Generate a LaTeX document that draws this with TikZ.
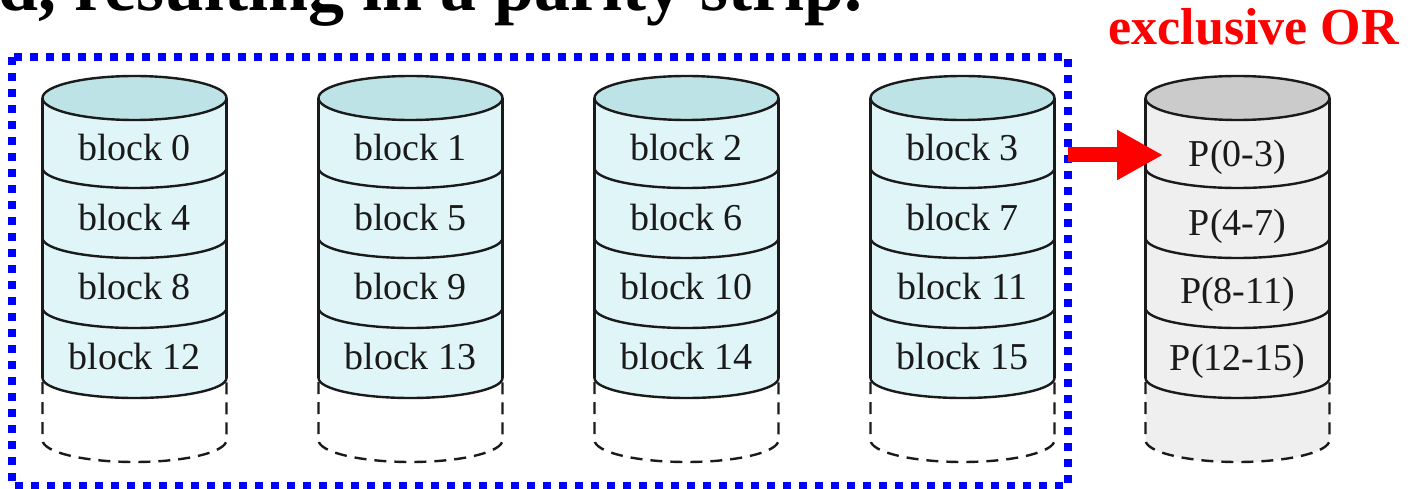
\documentclass[tikz,border=0pt]{standalone}
\usepackage{fontspec}
\setmainfont{Liberation Serif}
\usetikzlibrary{arrows.meta}

\definecolor{diskbody}{HTML}{DFF5F7}
\definecolor{disktop}{HTML}{BDE3E6}
\definecolor{paritybody}{HTML}{EFEFEF}
\definecolor{paritytop}{HTML}{CBCBCB}
\definecolor{frameblue}{HTML}{0000FF}
\definecolor{xorred}{HTML}{FF0000}
\definecolor{ink}{HTML}{1A1A1A}

% one disk drawn as a stacked cylinder: #1 centre x, #2 body colour,
% #3 top colour, #4 colour of the empty (dashed) part
\newcommand\drawdisk[4]{%
  \fill[#4] (#1-92,-378) arc[start angle=180,end angle=360,x radius=92,y radius=20]
    -- (#1+92,-440) arc[start angle=0,end angle=-180,x radius=92,y radius=22] -- cycle;
  \fill[#2] (#1-92,-98) -- (#1-92,-378)
    arc[start angle=180,end angle=360,x radius=92,y radius=20] -- (#1+92,-98) -- cycle;
  \draw[diskline,fill=#3] (#1,-98) ellipse[x radius=92,y radius=22];
  \foreach \yy in {168,238,308,378}
    \draw[diskline] (#1-92,-\yy) arc[start angle=180,end angle=360,x radius=92,y radius=20];
  \draw[diskline] (#1-92,-98) -- (#1-92,-378) (#1+92,-98) -- (#1+92,-378);
  \draw[diskline,dash pattern=on 12pt off 8pt] (#1-92,-382) -- (#1-92,-440)
    arc[start angle=180,end angle=360,x radius=92,y radius=22] -- (#1+92,-382);
}

\begin{document}
\begin{tikzpicture}[x=1pt,y=1pt,
  diskline/.style={ink,line width=2.4pt},
  blocklabel/.style={ink,inner sep=0pt,font=\fontsize{38}{38}\selectfont},
  frame/.style={frameblue,line width=8pt,dash pattern=on 8pt off 8pt},
  xorarrow/.style={xorred,line width=15pt,-{Triangle[length=46pt,width=47pt]}}]
  \useasboundingbox (0,0) rectangle (1410,-489);
  \clip (0,0) rectangle (1410,-489);

  % heading line, running off the top of the picture
  \node[anchor=base west,inner sep=0pt,font=\bfseries\fontsize{72}{72}\selectfont]
    (heading) at (-2,-11) {d, resulting in a parity strip.};

  % data disks
  \foreach \i/\cx in {0/134.5,1/410.5,2/686.5,3/962.5}{
    \drawdisk{\cx}{diskbody}{disktop}{white}
    \foreach \r/\yy in {0/148,1/218,2/287,3/356}{
      \pgfmathtruncatemacro\blk{\i+4*\r}
      \node[blocklabel] (b\blk) at (\cx,-\yy) {block \blk};
    }
  }

  % parity disk
  \drawdisk{1237.5}{paritybody}{paritytop}{paritybody}
  \node[blocklabel] (p0) at (1237.5,-157) {P(0-3)};
  \node[blocklabel] (p1) at (1237.5,-226) {P(4-7)};
  \node[blocklabel] (p2) at (1237.5,-294) {P(8-11)};
  \node[blocklabel] (p3) at (1237.5,-361) {P(12-15)};

  % dotted frame round the data disks
  \draw[frame] (12,-57) rectangle (1068,-486);

  \node[anchor=base east,inner sep=0pt,text=xorred,
        font=\bfseries\fontsize{52}{52}\selectfont] (xor) at (1399,-45) {exclusive OR};

  \coordinate (stripe) at (1068,-155);
  \coordinate (tip) at (1163,-155);
  \draw[xorarrow] (stripe) -- (tip);
\end{tikzpicture}
\end{document}
